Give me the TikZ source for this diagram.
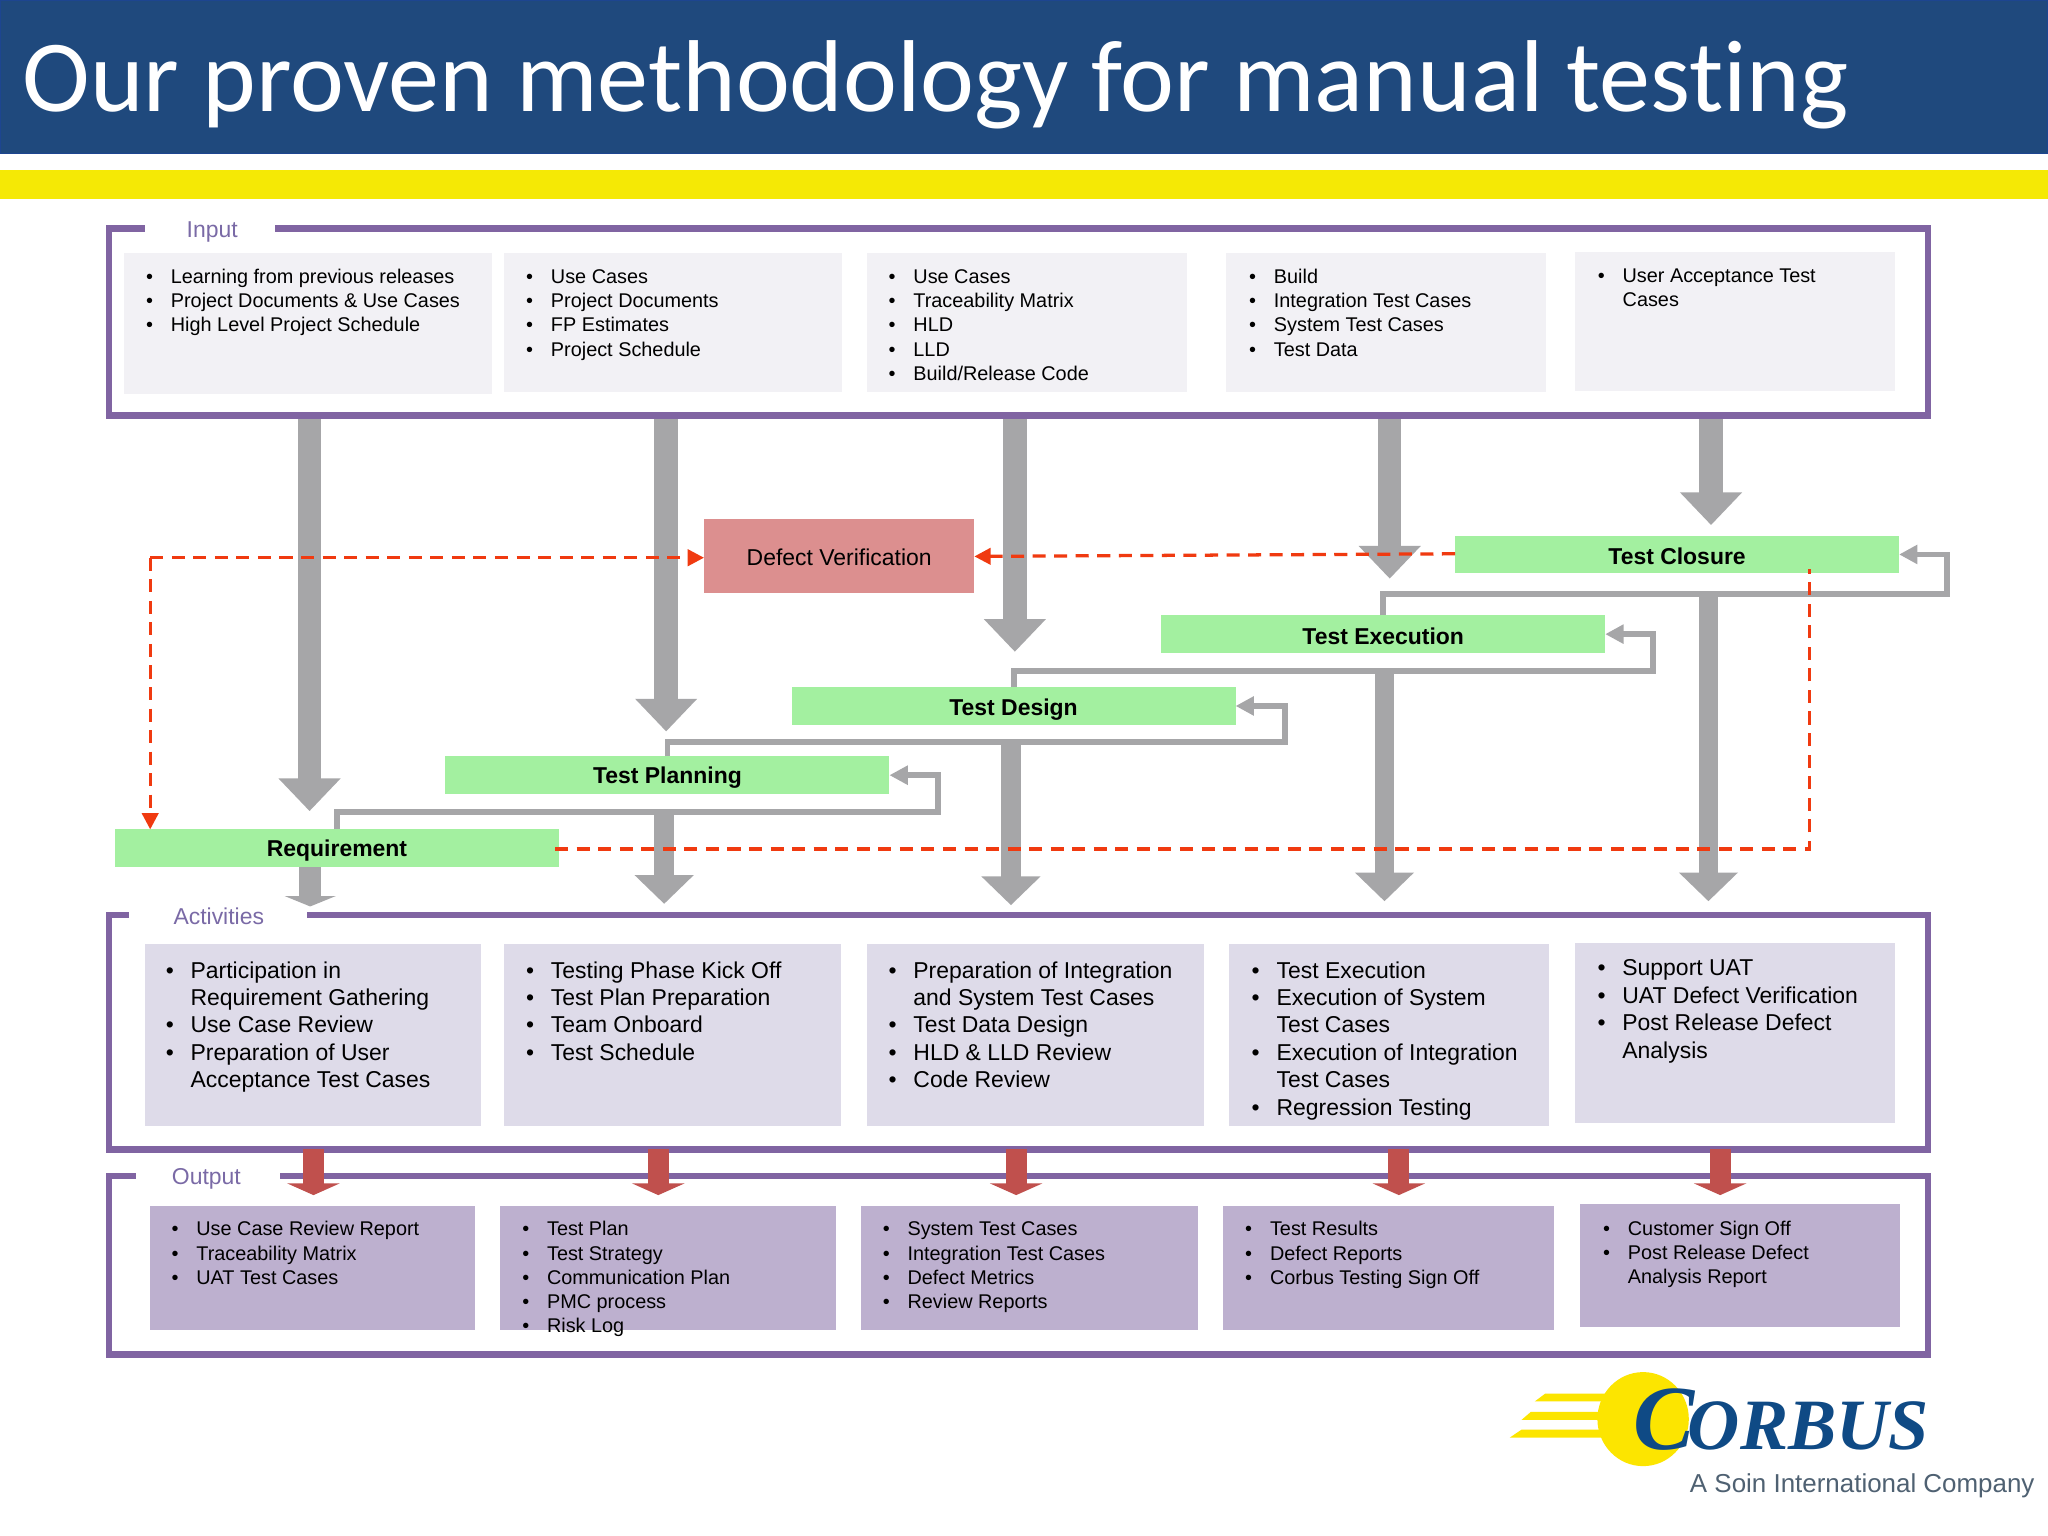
\documentclass[tikz,border=0pt]{standalone}
\usepackage{fontspec}
\usetikzlibrary{arrows.meta,fit,calc}
\setmainfont{Liberation Sans}
\newfontfamily\titlefont[Ligatures=NoCommon]{Carlito}
\newfontfamily\logofont{Liberation Serif}
\definecolor{hdrblue}{HTML}{1F497D}
\definecolor{hdredge}{HTML}{1D4590}
\definecolor{hdryellow}{HTML}{F5E905}
\definecolor{logoyellow}{HTML}{FCE500}
\definecolor{framepurple}{HTML}{8064A2}
\definecolor{labelpurple}{HTML}{7A6AA6}
\definecolor{inbox}{HTML}{F2F1F5}
\definecolor{actbox}{HTML}{DEDBE9}
\definecolor{outbox}{HTML}{BDB0CF}
\definecolor{stagegreen}{HTML}{A3F0A0}
\definecolor{defectred}{HTML}{DC8F8F}
\definecolor{arrowgrey}{HTML}{A6A6A8}
\definecolor{arrowred}{HTML}{C0504D}
\definecolor{dashred}{HTML}{F03A10}
\definecolor{logoblue}{HTML}{0F4A85}
\definecolor{logogrey}{HTML}{4F6172}
\newcommand\bl[1]{\makebox[.38cm][l]{•}#1\strut}
\newcommand\cn[1]{\makebox[.38cm][l]{}#1\strut}
\tikzset{
  panel/.style={inner sep=0pt,outer sep=0pt,draw=framepurple,line width=.1cm},
  flatbox/.style={inner sep=0pt,outer sep=0pt},
  inb/.style={flatbox,fill=inbox},
  actb/.style={flatbox,fill=actbox},
  outb/.style={flatbox,fill=outbox},
  stage/.style={flatbox,fill=stagegreen},
  stagetext/.style={inner sep=0pt,yshift=-.035cm,font=\fontsize{10}{12}\selectfont\bfseries},
  small/.style={anchor=north west,inner sep=0pt,align=left,font=\fontsize{8.65}{10.5}\selectfont},
  large/.style={anchor=north west,inner sep=0pt,align=left,font=\fontsize{10}{11.95}\selectfont},
  paneltitle/.style={inner sep=0pt,text=labelpurple,font=\fontsize{10}{12}\selectfont},
  bigdown/.style={draw=arrowgrey,line width=.36cm,-{Triangle[length=.5cm,width=.92cm]}},
  lowdown/.style={draw=arrowgrey,line width=.3cm,-{Triangle[length=.44cm,width=.88cm]}},
  stubdown/.style={draw=arrowgrey,line width=.34cm,-{Triangle[length=.16cm,width=.78cm]}},
  loopback/.style={draw=arrowgrey,line width=.09cm,-{Triangle[length=.28cm,width=.28cm]}},
  reddown/.style={draw=arrowred,line width=.32cm,-{Triangle[length=.18cm,width=.8cm]}},
  dashlink/.style={draw=dashred,line width=.05cm,dash pattern=on .2cm off .13cm},
  dashtip/.style={-{Triangle[length=.25cm,width=.25cm]}},
}
\begin{document}
\begin{tikzpicture}[x=.02cm,y=-.02cm]
\useasboundingbox (0,0) rectangle (1568,1176);
\fill[white] (0,0) rectangle (1568,1176);
% header
\draw[fill=hdrblue,draw=hdredge,line width=.02cm] (0.4,0) rectangle (1568,117.6);
\fill[hdryellow] (0,130) rectangle (1568,152.5);
\node[anchor=base west,inner sep=0pt,text=white,font=\fontsize{44.5}{52}\titlefont] (title) at (17,85.5) {Our proven methodology for manual testing};
% panels
\node[panel,fit={(83.5,175)(1476,318)}] (inputpanel) {};
\node[panel,fit={(83.5,700.5)(1476,880)}] (actpanel) {};
\node[panel,fit={(83.5,900.5)(1476,1037)}] (outpanel) {};
\fill[white] (111,165) rectangle (210.6,185);
\fill[white] (99,690) rectangle (235,712);
\fill[white] (104,890) rectangle (214,912);
\node[paneltitle,anchor=base] (inputlabel) at (162.5,182) {Input};
\node[paneltitle,anchor=base] (actlabel) at (167.5,708) {Activities};
\node[paneltitle,anchor=base] (outlabel) at (158,907) {Output};
% input boxes
\node[inb,fit={(95,194)(377,302)}] (in1) {};
\node[inb,fit={(386,194)(645,300)}] (in2) {};
\node[inb,fit={(664,194)(909,300)}] (in3) {};
\node[inb,fit={(939,194)(1184,300)}] (in4) {};
\node[inb,fit={(1206,193)(1451,299)}] (in5) {};
\node[small] (int1) at (111.5,204) {\bl{Learning from previous releases}\\\bl{Project Documents \& Use Cases}\\\bl{High Level Project Schedule}};
\node[small] (int2) at (402.5,204) {\bl{Use Cases}\\\bl{Project Documents}\\\bl{FP Estimates}\\\bl{Project Schedule}};
\node[small] (int3) at (680,204) {\bl{Use Cases}\\\bl{Traceability Matrix}\\\bl{HLD}\\\bl{LLD}\\\bl{Build/Release Code}};
\node[small] (int4) at (956,204) {\bl{Build}\\\bl{Integration Test Cases}\\\bl{System Test Cases}\\\bl{Test Data}};
\node[small] (int5) at (1223,203) {\bl{User Acceptance Test}\\\cn{Cases}};
% activity boxes
\node[actb,fit={(111,723)(368,862)}] (ac1) {};
\node[actb,fit={(386,723)(644,862)}] (ac2) {};
\node[actb,fit={(664,723)(922,862)}] (ac3) {};
\node[actb,fit={(941,723)(1186,862)}] (ac4) {};
\node[actb,fit={(1206,722)(1451,860)}] (ac5) {};
\node[large] (act1) at (126.6,733.8) {\bl{Participation in}\\\cn{Requirement Gathering}\\\bl{Use Case Review}\\\bl{Preparation of User}\\\cn{Acceptance Test Cases}};
\node[large] (act2) at (402.5,733.8) {\bl{Testing Phase Kick Off}\\\bl{Test Plan Preparation}\\\bl{Team Onboard}\\\bl{Test Schedule}};
\node[large] (act3) at (680,733.8) {\bl{Preparation of Integration}\\\cn{and System Test Cases}\\\bl{Test Data Design}\\\bl{HLD \& LLD Review}\\\bl{Code Review}};
\node[large] (act4) at (958,733.8) {\bl{Test Execution}\\\bl{Execution of System}\\\cn{Test Cases}\\\bl{Execution of Integration}\\\cn{Test Cases}\\\bl{Regression Testing}};
\node[large] (act5) at (1222.8,732) {\bl{Support UAT}\\\bl{UAT Defect Verification}\\\bl{Post Release Defect}\\\cn{Analysis}};
% output boxes
\node[outb,fit={(115,923)(364,1018)}] (ou1) {};
\node[outb,fit={(383,923)(640,1018)}] (ou2) {};
\node[outb,fit={(659,923)(917,1018)}] (ou3) {};
\node[outb,fit={(936,923)(1190,1018)}] (ou4) {};
\node[outb,fit={(1210,922)(1455,1016)}] (ou5) {};
\node[small] (out1) at (131,933) {\bl{Use Case Review Report}\\\bl{Traceability Matrix}\\\bl{UAT Test Cases}};
\node[small] (out2) at (399.5,933) {\bl{Test Plan}\\\bl{Test Strategy}\\\bl{Communication Plan}\\\bl{PMC process}\\\bl{Risk Log}};
\node[small] (out3) at (675.5,933) {\bl{System Test Cases}\\\bl{Integration Test Cases}\\\bl{Defect Metrics}\\\bl{Review Reports}};
\node[small] (out4) at (953,933) {\bl{Test Results}\\\bl{Defect Reports}\\\bl{Corbus Testing Sign Off}};
\node[small] (out5) at (1227,932.3) {\bl{Customer Sign Off}\\\bl{Post Release Defect}\\\cn{Analysis Report}};
% stages
\node[stage,fit={(1114,410)(1454,439)}] (closure) {};
\node[stage,fit={(889,471)(1229,500)}] (execution) {};
\node[stage,fit={(606,526)(946,555)}] (design) {};
\node[stage,fit={(341,579)(681,608)}] (planning) {};
\node[stage,fit={(88,635)(428,664)}] (requirement) {};
\node[flatbox,fill=defectred,fit={(539,397)(746,454)}] (defect) {};
\node[stagetext] (closuret) at (closure.center) {Test Closure};
\node[stagetext] (executiont) at (execution.center) {Test Execution};
\node[stagetext,yshift=-.02cm] (designt) at (design.center) {Test Design};
\node[stagetext] (planningt) at (planning.center) {Test Planning};
\node[stagetext] (requirementt) at (requirement.center) {Requirement};
\node[font=\fontsize{10}{12}\selectfont,inner sep=0pt,yshift=-.03cm] (defectt) at (defect.center) {Defect Verification};
% arrows from input down to the stages
\coordinate (d1) at (237,621);
\coordinate (d2) at (510,560);
\coordinate (d3) at (777,499);
\coordinate (d4) at (1064,443);
\coordinate (d5) at (1310,402);
\foreach \t in {d1,d2,d3,d4,d5}{\draw[bigdown] ($(inputpanel.south -| \t)+(0,3)$) -- (\t);}
% loop backs
\draw[loopback] (requirement.north) |- (718,622) |- (planning.east);
\draw[loopback] (planning.north) |- (984,568) |- (design.east);
\draw[loopback] (design.north) |- (1265.5,514) |- (execution.east);
\draw[loopback] (execution.north) |- (1490.5,455) |- (closure.east);
% arrows from stages down to activities
\coordinate (a1) at (237.5,694);
\coordinate (a2) at (508.5,692);
\coordinate (a3) at (774,693);
\coordinate (a4) at (1060,690);
\coordinate (a5) at (1308,690);
\draw[stubdown] (requirement.south -| a1) -- (a1);
\draw[lowdown] (508.5,622) -- (a2);
\draw[lowdown] (774,568) -- (a3);
\draw[lowdown] (1060,514) -- (a4);
\draw[lowdown] (1308,455) -- (a5);
% red arrows
\coordinate (r1) at (240,915);
\coordinate (r2) at (504,915);
\coordinate (r3) at (778,915);
\coordinate (r4) at (1071,915);
\coordinate (r5) at (1317,915);
\foreach \t in {r1,r2,r3,r4,r5}{\draw[reddown] (actpanel.south -| \t) -- (\t);}
% dashed links
\coordinate (corner) at (115,427);
\draw[dashlink,dashtip] (closure.west |- 0,424) -- (defect.east |- 0,426);
\draw[dashlink,dashtip] (corner) -- (defect.west |- corner);
\draw[dashlink,dashtip] (corner) -- (requirement.north -| corner);
\coordinate (turn) at (1385.5,650);
\draw[dashlink] (425,650) -- (turn) -- (1385.5,436);
% logo
\fill[logoyellow] (1183,1067) -- (1230,1067) -- (1230,1073) -- (1175,1073) -- cycle;
\fill[logoyellow] (1172,1081) -- (1230,1081) -- (1230,1087) -- (1165,1087) -- cycle;
\fill[logoyellow] (1165,1094.5) -- (1230,1094.5) -- (1230,1100.6) -- (1156,1100.6) -- cycle;
\fill[logoyellow] (1258,1086.5) ellipse (35 and 36);
\node[anchor=base west,inner sep=0pt,text=logoblue,font=\logofont\bfseries\itshape\fontsize{31.5}{36}\selectfont] (logo) at (1250,1110) {{\fontsize{40}{44}\selectfont C}\kern-.1cm ORBUS};
\node[anchor=base east,inner sep=0pt,text=logogrey,font=\fontsize{11.3}{13}\selectfont] (tagline) at (1558,1143) {A Soin International Company};
\end{tikzpicture}
\end{document}
